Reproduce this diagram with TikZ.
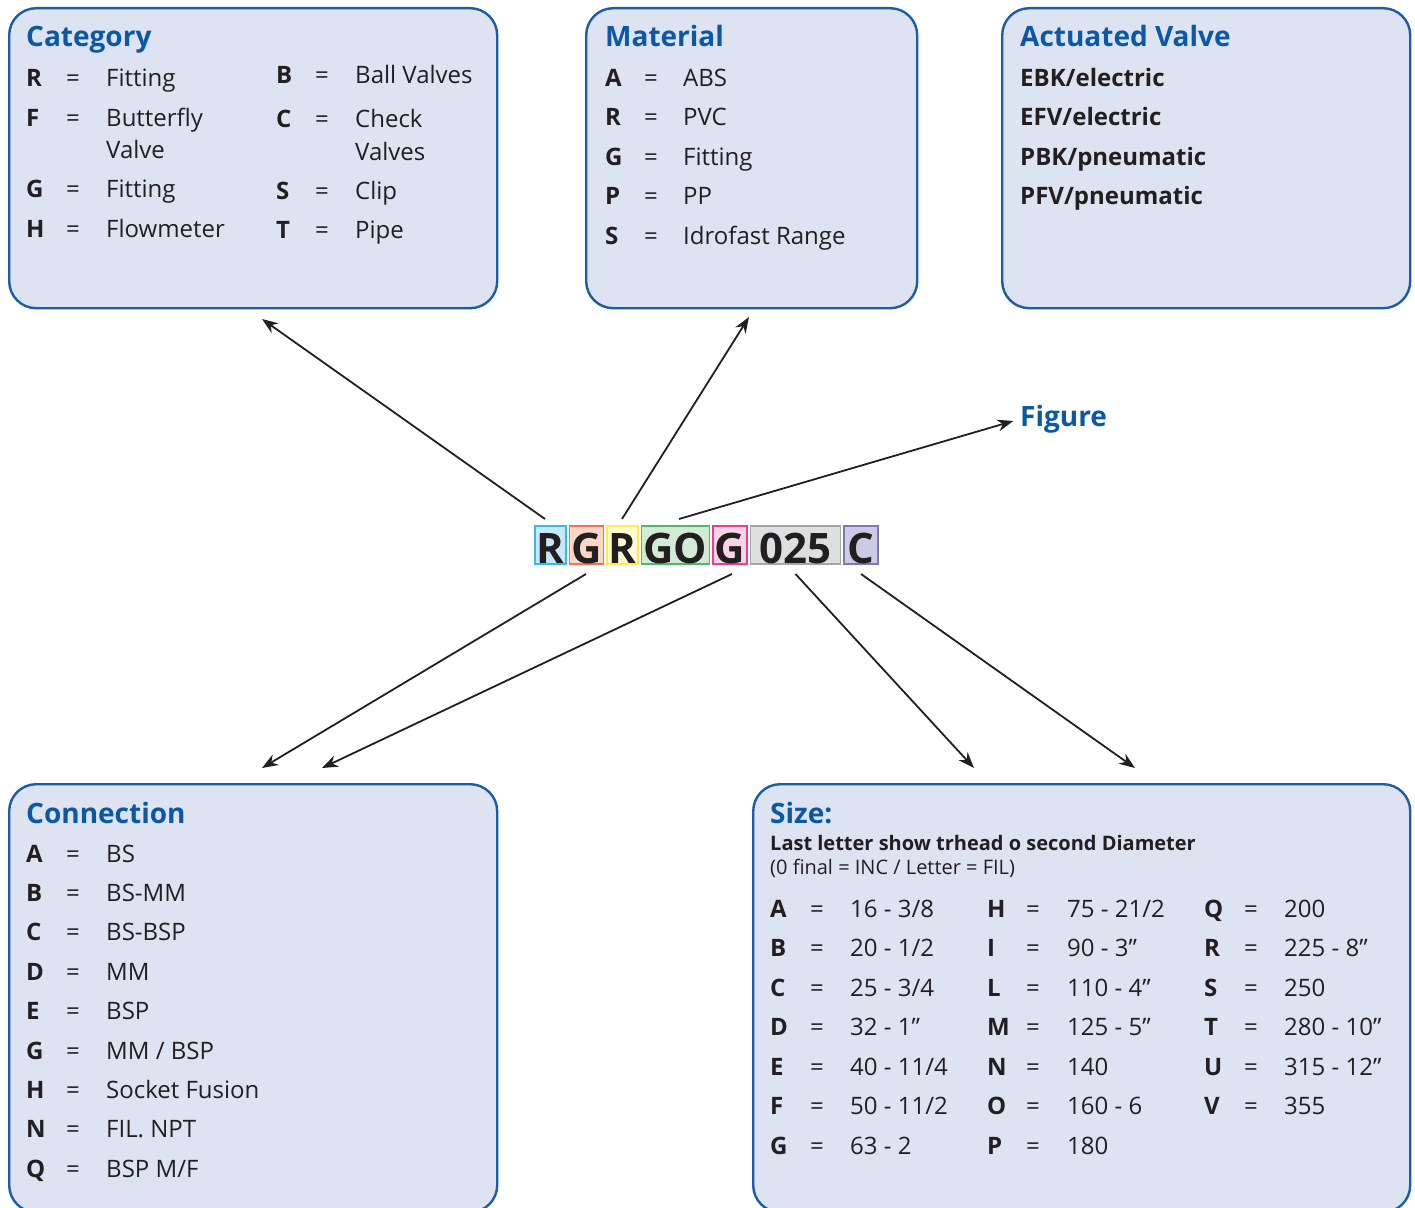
\documentclass[tikz,border=0pt]{standalone}
\usepackage{fontspec}
\setmainfont{Open Sans}
\usetikzlibrary{positioning,arrows.meta}

\definecolor{panelblue}{HTML}{1C5DA9}
\definecolor{panelfill}{HTML}{DDE3F1}
\definecolor{headblue}{HTML}{0A58A6}
\definecolor{ink}{HTML}{231F20}
\definecolor{cyanline}{HTML}{3DB7E9}\definecolor{cyanfill}{HTML}{C6E9F9}
\definecolor{redline}{HTML}{F0705C}\definecolor{redfill}{HTML}{FDD6C6}
\definecolor{yelline}{HTML}{FFEE4A}\definecolor{yelfill}{HTML}{FFFBD5}
\definecolor{grnline}{HTML}{4DBA6A}\definecolor{grnfill}{HTML}{D3EAD5}
\definecolor{pnkline}{HTML}{EC3D92}\definecolor{pnkfill}{HTML}{F9D4E6}
\definecolor{gryline}{HTML}{A6A6A6}\definecolor{gryfill}{HTML}{DEDFE0}
\definecolor{prpline}{HTML}{7E78B9}\definecolor{prpfill}{HTML}{CDCAE5}

\newcommand{\inch}{\textquotedblright}

\tikzset{
  panel/.style={draw=panelblue, fill=panelfill, line width=2.4pt,
    rounded corners=27pt, anchor=north west, inner sep=0pt},
  heading/.style={anchor=base west, inner sep=0pt, text=headblue,
    font=\fontsize{28}{32}\selectfont\bfseries},
  key/.style={anchor=base west, inner sep=0pt, text=ink,
    font=\fontsize{24}{30}\selectfont\bfseries},
  eqs/.style={anchor=base, inner sep=0pt, text=ink,
    font=\fontsize{24}{30}\selectfont},
  val/.style={anchor=base west, inner sep=0pt, text=ink,
    font=\fontsize{24}{30}\selectfont},
  digit/.style 2 args={draw=#1, fill=#2, line width=1.4pt, outer sep=0pt,
    minimum height=38pt, inner sep=0pt, text height=36pt, text depth=0pt,
    font=\fontsize{42}{42}\selectfont\bfseries, text=ink},
  link/.style={-{Stealth[length=16pt,width=12pt]}, line width=1.8pt, draw=ink},
}

\begin{document}
\begin{tikzpicture}[x=1pt, y=-1pt, node distance=3.5pt]
  \useasboundingbox (0,0) rectangle (1415,1207);

  % panels
  \node[panel, minimum width=488pt, minimum height=300pt] (catbox) at (8,7) {};
  \node[panel, minimum width=331pt, minimum height=300pt] (matbox) at (585,7) {};
  \node[panel, minimum width=408pt, minimum height=300pt] (actbox) at (1001,7) {};
  \node[panel, minimum width=488pt, minimum height=428pt] (conbox) at (8,783) {};
  \node[panel, minimum width=657pt, minimum height=428pt] (sizebox) at (752,783) {};

  % Category
  \node[heading] (cattitle) at (26,47) {Category};
  \foreach \k/\v/\y in {R/Fitting/86, F/Butterfly/126, G/Fitting/197, H/Flowmeter/237}{
    \node[key] at (26,\y) {\k};
    \node[eqs] at (73,\y) {=};
    \node[val] at (106,\y) {\v};
  }
  \node[val] at (106,158) {Valve};
  \foreach \k/\v/\y in {B/Ball Valves/83, C/Check/127, S/Clip/199, T/Pipe/238}{
    \node[key] at (276,\y) {\k};
    \node[eqs] at (322,\y) {=};
    \node[val] at (355,\y) {\v};
  }
  \node[val] at (355,160) {Valves};

  % Material
  \node[heading] (mattitle) at (605,47) {Material};
  \foreach \k/\v [count=\i from 0] in {A/ABS, R/PVC, G/Fitting, P/PP, S/Idrofast Range}{
    \node[key] at (605,86+39.5*\i) {\k};
    \node[eqs] at (651,86+39.5*\i) {=};
    \node[val] at (683,86+39.5*\i) {\v};
  }

  % Actuated valve
  \node[heading] (acttitle) at (1020,47) {Actuated Valve};
  \foreach \v [count=\i from 0] in {EBK/electric, EFV/electric, PBK/pneumatic, PFV/pneumatic}
    \node[key] at (1020,86+39.5*\i) {\v};

  % Connection
  \node[heading] (contitle) at (26,823) {Connection};
  \foreach \k/\v [count=\i from 0] in {A/BS, B/BS-MM, C/BS-BSP, D/MM, E/BSP,
      G/{MM / BSP}, H/Socket Fusion, N/FIL. NPT, Q/{BSP M/F}}{
    \node[key] at (26,862+39.4*\i) {\k};
    \node[eqs] at (73,862+39.4*\i) {=};
    \node[val] at (106,862+39.4*\i) {\v};
  }

  % Size
  \node[heading] (sizetitle) at (770,823) {Size:};
  \node[key, font=\fontsize{20}{24}\selectfont\bfseries] (sizenote) at (770,850)
    {Last letter show trhead o second Diameter};
  \node[val, font=\fontsize{20}{24}\selectfont] (sizehint) at (770,874)
    {(0 final = INC / Letter = FIL)};
  \foreach \k/\v [count=\i from 0] in {A/{16 - 3/8}, B/{20 - 1/2}, C/{25 - 3/4},
      D/32 - 1\inch, E/{40 - 11/4}, F/{50 - 11/2}, G/63 - 2}{
    \node[key] at (770,917+39.5*\i) {\k};
    \node[eqs] at (817,917+39.5*\i) {=};
    \node[val] at (850,917+39.5*\i) {\v};
  }
  \foreach \k/\v [count=\i from 0] in {H/{75 - 21/2}, I/90 - 3\inch,
      L/110 - 4\inch, M/125 - 5\inch, N/140, O/160 - 6, P/180}{
    \node[key] at (987,917+39.5*\i) {\k};
    \node[eqs] at (1033,917+39.5*\i) {=};
    \node[val] at (1067,917+39.5*\i) {\v};
  }
  \foreach \k/\v [count=\i from 0] in {Q/200, R/225 - 8\inch, S/250,
      T/280 - 10\inch, U/315 - 12\inch, V/355}{
    \node[key] at (1204,917+39.5*\i) {\k};
    \node[eqs] at (1251,917+39.5*\i) {=};
    \node[val] at (1284,917+39.5*\i) {\v};
  }

  % Figure label
  \node[heading, anchor=west] (figure) at (1020,419) {Figure};

  % code
  \node[digit={cyanline}{cyanfill}, minimum width=31pt] (c1) at (550.5,545) {R};
  \node[digit={redline}{redfill}, minimum width=34pt, right=of c1] (c2) {G};
  \node[digit={yelline}{yelfill}, minimum width=31pt, right=of c2] (c3) {R};
  \node[digit={grnline}{grnfill}, minimum width=68pt, right=of c3] (c4) {GO};
  \node[digit={pnkline}{pnkfill}, minimum width=34pt, right=of c4] (c5) {G};
  \node[digit={gryline}{gryfill}, minimum width=90pt, right=of c5] (c6) {025};
  \node[digit={prpline}{prpfill}, minimum width=34pt, right=of c6] (c7) {C};

  % arrow targets
  \coordinate (catin) at (262,319);
  \coordinate (matin) at (749,317);
  \coordinate (conin1) at (262,768);
  \coordinate (conin2) at (322,768);
  \coordinate (sizein1) at (974,768);
  \coordinate (sizein2) at (1135,768);

  \draw[link] ([shift={(-5.5pt,7pt)}]c1.north) -- (catin);
  \draw[link] ([shift={(-0.5pt,7pt)}]c3.north) -- (matin);
  \draw[link, shorten >=7pt] ([shift={(3.5pt,7pt)}]c4.north) -- (figure.west);
  \draw[link] ([shift={(-0.5pt,-10pt)}]c2.south) -- (conin1);
  \draw[link] ([shift={(2pt,-10pt)}]c5.south) -- (conin2);
  \draw[link] ([shift={(0pt,-10pt)}]c6.south) -- (sizein1);
  \draw[link] ([shift={(0pt,-10pt)}]c7.south) -- (sizein2);
\end{tikzpicture}
\end{document}
